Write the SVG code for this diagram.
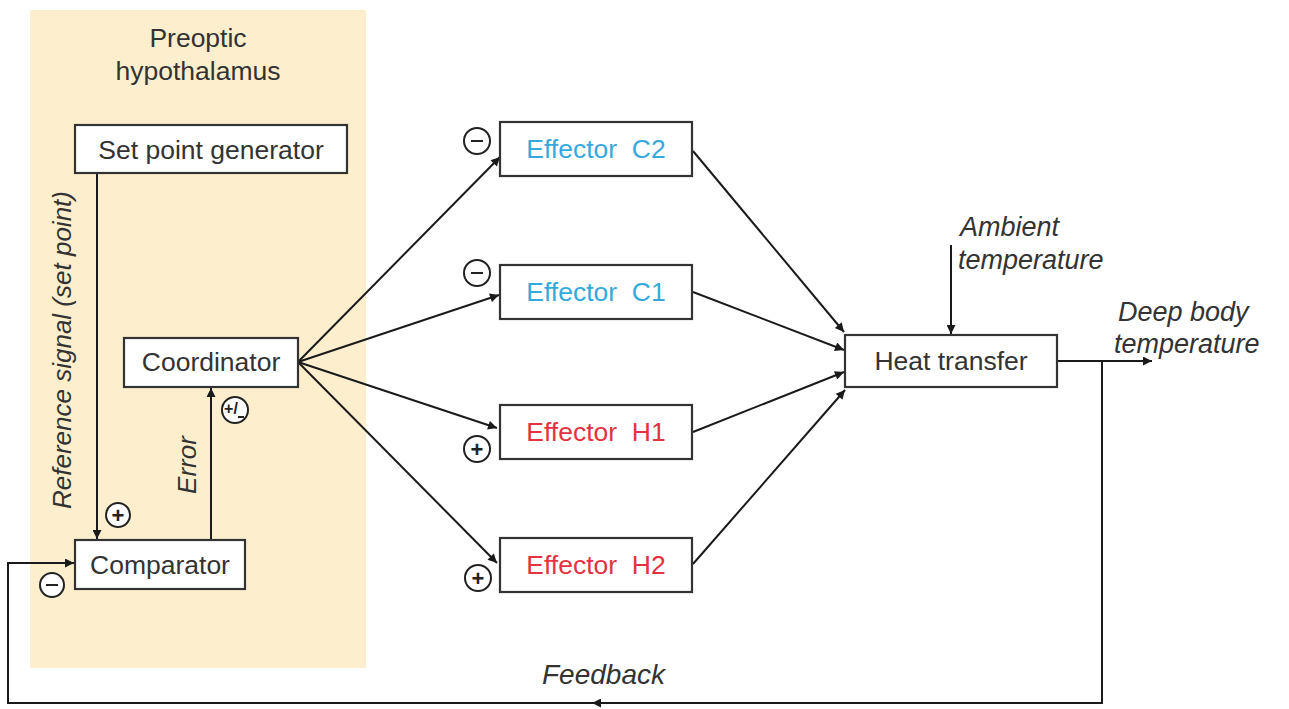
<svg xmlns="http://www.w3.org/2000/svg" width="1289" height="709" viewBox="0 0 1289 709">
<defs>
<marker id="ah" viewBox="0 0 10 10" refX="10" refY="5" markerWidth="11" markerHeight="9" orient="auto" markerUnits="userSpaceOnUse">
<path d="M0,0 L10,5 L0,10 z" fill="#1a1a1a"/>
</marker>
<style>
.box{fill:#fff;stroke:#333;stroke-width:2.2}
.t{font-family:"Liberation Sans",Arial,sans-serif;font-size:26.5px;fill:#333;text-anchor:middle}
.it{font-family:"Liberation Sans",Arial,sans-serif;font-size:27px;fill:#333;font-style:italic}
.ln{stroke:#1a1a1a;stroke-width:2;fill:none}
.arr{stroke:#1a1a1a;stroke-width:2;fill:none;marker-end:url(#ah)}
.sg{fill:#fff;stroke:#222;stroke-width:2}
.sgt{font-family:"Liberation Sans",Arial,sans-serif;font-size:22px;font-weight:bold;fill:#222;text-anchor:middle}
.blue{fill:#36a9dc}
.red{fill:#e33340}
</style>
</defs>
<rect width="1289" height="709" fill="#fff"/>
<rect id="hypothalamus" x="30" y="10" width="336" height="658" fill="#fdefcd"/>
<text class="t" x="198" y="47">Preoptic</text>
<text class="t" x="198" y="80">hypothalamus</text>

<g id="connectors">
<line class="arr" x1="97" y1="173" x2="97" y2="539"/>
<line class="arr" x1="211" y1="540" x2="211" y2="388"/>
<line class="arr" x1="298" y1="362" x2="500" y2="157"/>
<line class="arr" x1="298" y1="362" x2="499" y2="295"/>
<line class="arr" x1="298" y1="362" x2="497" y2="428"/>
<line class="arr" x1="298" y1="362" x2="497" y2="563"/>
<line class="arr" x1="693" y1="151" x2="844" y2="332"/>
<line class="arr" x1="693" y1="292" x2="844" y2="350"/>
<line class="arr" x1="693" y1="432" x2="844" y2="372"/>
<line class="arr" x1="693" y1="564" x2="845" y2="390"/>
<line class="arr" x1="951" y1="245" x2="951" y2="334"/>
<line class="arr" x1="1057" y1="361" x2="1152" y2="361"/>
<polyline class="ln" points="1102,361 1102,703 8,703 8,563 75,563"/>
<line class="arr" x1="1102" y1="703" x2="592" y2="703"/>
<line class="arr" x1="8" y1="563" x2="74" y2="563"/>
</g>

<g id="setpoint">
<rect class="box" x="75" y="125" width="272" height="48"/>
<text class="t" x="211" y="159">Set point generator</text>
</g>
<g id="coordinator">
<rect class="box" x="124" y="338" width="174" height="49"/>
<text class="t" x="211" y="371">Coordinator</text>
</g>
<g id="comparator">
<rect class="box" x="75" y="540" width="170" height="49"/>
<text class="t" x="160" y="574">Comparator</text>
</g>
<g id="effC2">
<rect class="box" x="500" y="122" width="192" height="54"/>
<text class="t blue" x="596" y="158" xml:space="preserve">Effector  C2</text>
</g>
<g id="effC1">
<rect class="box" x="500" y="265" width="192" height="54"/>
<text class="t blue" x="596" y="301" xml:space="preserve">Effector  C1</text>
</g>
<g id="effH1">
<rect class="box" x="500" y="405" width="192" height="54"/>
<text class="t red" x="596" y="441" xml:space="preserve">Effector  H1</text>
</g>
<g id="effH2">
<rect class="box" x="500" y="538" width="192" height="54"/>
<text class="t red" x="596" y="574" xml:space="preserve">Effector  H2</text>
</g>
<g id="heat">
<rect class="box" x="845" y="335" width="212" height="52"/>
<text class="t" x="951" y="370">Heat transfer</text>
</g>

<g id="signs">
<circle class="sg" cx="118" cy="515" r="12"/><text class="sgt" x="118" y="523">+</text>
<circle class="sg" cx="52" cy="585" r="12"/><line x1="46" y1="585" x2="58" y2="585" stroke="#222" stroke-width="2"/>
<circle class="sg" cx="235" cy="410" r="13"/>
<text x="231" y="414" font-family="Liberation Sans,Arial,sans-serif" font-size="16" font-weight="bold" fill="#222" text-anchor="middle">+/</text>
<line x1="238" y1="417" x2="244" y2="417" stroke="#222" stroke-width="2"/>
<circle class="sg" cx="477" cy="141" r="13"/><line x1="471" y1="141" x2="483" y2="141" stroke="#222" stroke-width="2"/>
<circle class="sg" cx="477" cy="273" r="13"/><line x1="471" y1="273" x2="483" y2="273" stroke="#222" stroke-width="2"/>
<circle class="sg" cx="477" cy="449" r="13"/><text class="sgt" x="477" y="457">+</text>
<circle class="sg" cx="478" cy="578" r="13"/><text class="sgt" x="478" y="586">+</text>
</g>

<g id="labels">
<text class="it" transform="translate(71,350) rotate(-90)" text-anchor="middle" style="font-size:26px">Reference signal (set point)</text>
<text class="it" transform="translate(196,465) rotate(-90)" text-anchor="middle" style="font-size:26px">Error</text>
<text class="it" x="960" y="236">Ambient</text>
<text class="it" x="958" y="269">temperature</text>
<text class="it" x="1118" y="321">Deep body</text>
<text class="it" x="1114" y="353">temperature</text>
<text class="it" x="542" y="684" style="font-size:28px">Feedback</text>
</g>
</svg>
